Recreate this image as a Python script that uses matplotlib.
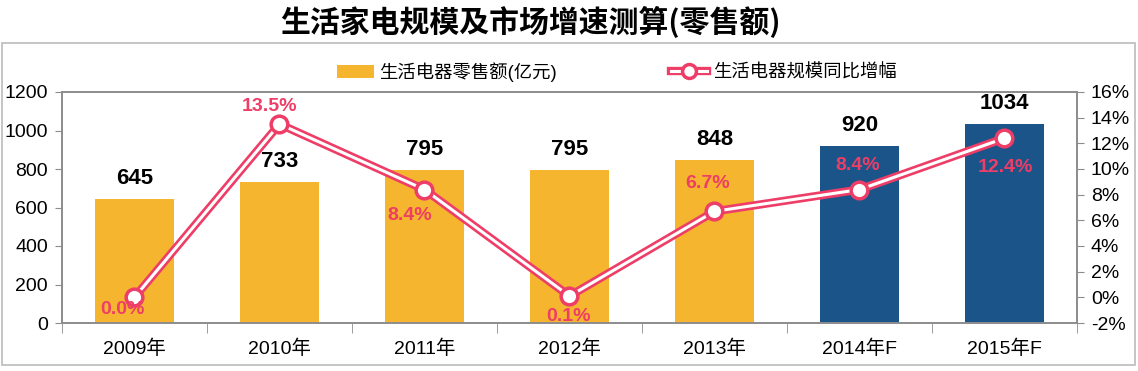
import numpy as np
import matplotlib.pyplot as plt
from matplotlib.lines import Line2D
from matplotlib.patches import Patch, Rectangle

plt.rcParams['font.family'] = ['Liberation Sans', 'Noto Sans CJK SC']

years = ['2009年', '2010年', '2011年', '2012年', '2013年', '2014年F', '2015年F']
sales = [645, 733, 795, 795, 848, 920, 1034]
growth = [0.0, 13.5, 8.4, 0.1, 6.7, 8.4, 12.4]
growth_labels = ['0.0%', '13.5%', '8.4%', '0.1%', '6.7%', '8.4%', '12.4%']
# label offsets (points) relative to each point
label_offsets = [(-9, -9), (-7, 13), (-11, -19), (-1, -15), (-5, 20), (-1, 17), (1, -21)]

gold = '#F5B52E'
blue = '#1A5488'
pink = '#EE3D66'
grey = '#8C8C8C'

fig = plt.figure(figsize=(11.38, 3.71), dpi=100)
ax = fig.add_axes([62/1138, 1-323/371, (1077-62)/1138, (323-92)/371])

x = np.arange(len(years))
colors = [gold]*5 + [blue]*2
ax.bar(x, sales, width=0.55, color=colors, zorder=2)
for xi, v in zip(x, sales):
    ax.annotate(str(v), (xi, v), xytext=(0, 7), textcoords='offset points',
                ha='center', va='bottom', fontsize=16, fontweight='bold', color='black')

ax.set_xlim(-0.5, 6.5)
ax.set_ylim(0, 1200)
ax.set_yticks(range(0, 1201, 200))
ax.set_xticks(x)
ax.set_xticklabels(years, fontsize=14)
ax.set_xticks(np.arange(-0.5, 7, 1), minor=True)
ax.tick_params(axis='x', which='major', length=0, pad=12)
ax.tick_params(axis='x', which='minor', length=7, color=grey, direction='out')
ax.tick_params(axis='y', labelsize=14, length=5, color=grey, pad=5)
for s in ax.spines.values():
    s.set_color(grey)
    s.set_linewidth(1.2)

ax2 = ax.twinx()
ax2.set_ylim(-2, 16)
ax2.set_yticks(range(-2, 17, 2))
ax2.set_yticklabels([f'{t}%' for t in range(-2, 17, 2)])
ax2.tick_params(axis='y', labelsize=14, length=5, color=grey, pad=5)
for s in ax2.spines.values():
    s.set_color(grey)
    s.set_linewidth(1.2)

ax2.plot(x, growth, color=pink, lw=6, solid_joinstyle='miter', zorder=3)
ax2.plot(x, growth, color='white', lw=2.2, zorder=4)
ax2.plot(x, growth, 'o', ms=12, mfc='white', mec=pink, mew=2.5, zorder=5)
for xi, v, lab, off in zip(x, growth, growth_labels, label_offsets):
    ax2.annotate(lab, (xi, v), xytext=off, textcoords='offset points',
                 ha='center', va='center', fontsize=14, fontweight='bold', color=pink, zorder=6)

fig.text(530/1138, 1-22/371, '生活家电规模及市场增速测算(零售额)', ha='center', va='center',
         fontsize=21.5, fontweight='bold', family=['Noto Sans CJK SC'])

# chart frame
fig.patches.append(Rectangle((2/1138, 1-365/371), 1133/1138, 322/371, transform=fig.transFigure,
                             fill=False, edgecolor='#BBBBBB', lw=1.2))

h_bar = Patch(facecolor=gold, edgecolor='none')
h_line = (Line2D([], [], color=pink, lw=6),
          Line2D([], [], color='white', lw=2.2, marker='o', ms=10, mfc='white', mec=pink, mew=2.5))
fig.legend([h_bar, h_line], ['生活电器零售额(亿元)', '生活电器规模同比增幅'],
           loc='center', bbox_to_anchor=(617/1138, 1-72/371), ncol=2, frameon=False,
           fontsize=13.2, handlelength=2.0, columnspacing=6.2, handletextpad=0.3)

fig.savefig('out.png', dpi=100)
